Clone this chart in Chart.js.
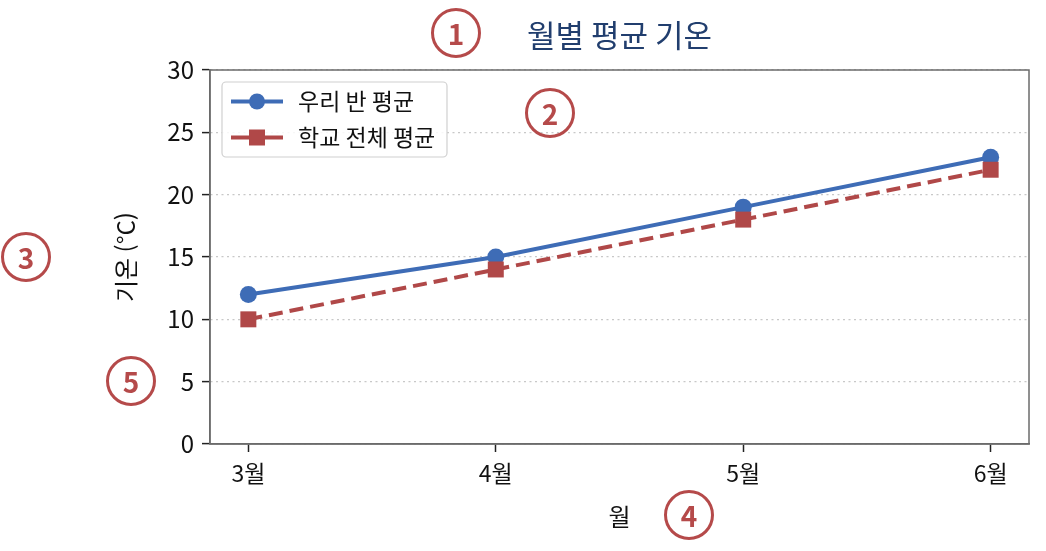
<!DOCTYPE html>
<html lang="ko">
<head>
<meta charset="utf-8">
<script src="https://cdn.jsdelivr.net/npm/chart.js@4"></script>
<style>
  html, body { margin: 0; padding: 0; background: #fff; }
  #wrap { width: 1046px; height: 551px; position: relative; }
</style>
</head>
<body>
<div id="wrap"><canvas id="myChart" width="1046" height="551"></canvas></div>
<script>
// dane wykresu
const months = ['3월', '4월', '5월', '6월'];
const classAvg = [12, 15, 19, 23];
const schoolAvg = [10, 14, 18, 22];
const seriesNames = ['우리 반 평균', '학교 전체 평균'];
const yTicks = [0, 5, 10, 15, 20, 25, 30];
const chartTitle = '월별 평균 기온';
const markers = ['1', '2', '3', '4', '5'];

const FONT = '"Noto Sans CJK KR", "Noto Sans", sans-serif';
const BLUE = '#3e6cb6';
const RED = '#b04848';
const MARK = '#b54a4a';

// tytul wysrodkowany nad obszarem wykresu
const titlePlugin = {
    id: 'areaTitle',
    afterDraw(chart) {
        const a = chart.chartArea;
        const ctx = chart.ctx;
        ctx.save();
        ctx.fillStyle = '#213e6e';
        ctx.font = '31px ' + FONT;
        ctx.textAlign = 'center';
        ctx.textBaseline = 'middle';
        ctx.fillText(chartTitle, (a.left + a.right) / 2, 35);
        ctx.restore();
    }
};

// ramka wokol obszaru wykresu
const framePlugin = {
    id: 'frame',
    beforeDatasetsDraw(chart) {
        const a = chart.chartArea;
        const ctx = chart.ctx;
        ctx.save();
        ctx.strokeStyle = '#6b6b6b';
        ctx.lineWidth = 1.5;
        ctx.strokeRect(a.left, a.top, a.right - a.left, a.bottom - a.top);
        ctx.restore();
    }
};

// legenda z linia i znacznikiem
const legendPlugin = {
    id: 'lineLegend',
    afterDatasetsDraw(chart) {
        const a = chart.chartArea;
        const ctx = chart.ctx;
        const x0 = a.left + 12, y0 = a.top + 12;
        ctx.save();
        ctx.beginPath();
        ctx.roundRect(x0, y0, 225, 75, 4);
        ctx.fillStyle = 'rgba(255,255,255,0.85)';
        ctx.fill();
        ctx.strokeStyle = '#d0d0d0';
        ctx.lineWidth = 1.2;
        ctx.stroke();
        chart.data.datasets.forEach((ds, i) => {
            const y = y0 + 19.5 + i * 36;
            ctx.beginPath();
            ctx.setLineDash([]);
            ctx.strokeStyle = ds.borderColor;
            ctx.lineWidth = ds.borderWidth;
            ctx.moveTo(x0 + 9, y);
            ctx.lineTo(x0 + 61, y);
            ctx.stroke();
            ctx.fillStyle = ds.pointBackgroundColor;
            if (ds.pointStyle === 'rect') {
                ctx.fillRect(x0 + 35 - 8, y - 8, 16, 16);
            } else {
                ctx.beginPath();
                ctx.arc(x0 + 35, y, 8, 0, Math.PI * 2);
                ctx.fill();
            }
            ctx.fillStyle = '#111';
            ctx.font = '23px ' + FONT;
            ctx.textBaseline = 'middle';
            ctx.fillText(ds.label, x0 + 76, y);
        });
        ctx.restore();
    }
};

// numerowane kolka
const markerPlugin = {
    id: 'markers',
    afterDraw(chart) {
        const ctx = chart.ctx;
        const spots = [[456, 33], [550, 113], [26, 257], [689, 515], [131, 381]];
        ctx.save();
        markers.forEach((m, i) => {
            const [x, y] = spots[i];
            ctx.beginPath();
            ctx.arc(x, y, 23.5, 0, Math.PI * 2);
            ctx.strokeStyle = MARK;
            ctx.lineWidth = 3;
            ctx.stroke();
            ctx.fillStyle = MARK;
            ctx.font = 'bold 28px ' + FONT;
            ctx.textAlign = 'center';
            ctx.textBaseline = 'middle';
            ctx.fillText(m, x, y + 1);
        });
        ctx.restore();
    }
};

const ctx = document.getElementById('myChart').getContext('2d');
const myChart = new Chart(ctx, {
    type: 'line',
    data: {
        datasets: [{
            label: seriesNames[0],
            data: classAvg.map((v, i) => ({ x: i, y: v })),
            borderColor: BLUE,
            backgroundColor: BLUE,
            pointBackgroundColor: BLUE,
            pointBorderWidth: 0,
            borderWidth: 4,
            pointStyle: 'circle',
            pointRadius: 8.5,
            order: 1
        }, {
            label: seriesNames[1],
            data: schoolAvg.map((v, i) => ({ x: i, y: v })),
            borderColor: RED,
            backgroundColor: RED,
            pointBackgroundColor: RED,
            pointBorderWidth: 0,
            borderWidth: 4,
            borderDash: [14, 7],
            pointStyle: 'rect',
            pointRadius: 11.3,
            order: 0
        }]
    },
    options: {
        responsive: false,
        animation: false,
        devicePixelRatio: 1,
        layout: { padding: { left: 0, right: 17, top: 70, bottom: 0 } },
        scales: {
            x: {
                type: 'linear',
                min: -0.155,
                max: 3.155,
                afterFit(scale) { scale.height = 107; },
                afterBuildTicks(scale) { scale.ticks = months.map((m, i) => ({ value: i })); },
                ticks: {
                    color: '#111',
                    font: { family: FONT, size: 23 },
                    padding: 7,
                    callback: v => months[v]
                },
                grid: { drawOnChartArea: false, tickLength: 8, tickColor: '#222', tickWidth: 1.5 },
                border: { color: '#6b6b6b', width: 1.5 },
                title: {
                    display: true,
                    text: '월',
                    color: '#111',
                    font: { family: FONT, size: 24 },
                    padding: { top: 0, bottom: 20 }
                }
            },
            y: {
                min: 0,
                max: 30,
                afterFit(scale) { scale.width = 210; },
                afterBuildTicks(scale) { scale.ticks = yTicks.map(v => ({ value: v })); },
                ticks: {
                    color: '#111',
                    font: { family: FONT, size: 24 },
                    padding: 8
                },
                grid: { color: '#c8c8c8', lineWidth: 1.2, tickLength: 8, tickColor: '#222', tickWidth: 1.5 },
                border: { color: '#6b6b6b', width: 1.5, dash: [2, 3.5] },
                title: {
                    display: true,
                    text: '기온 (°C)',
                    color: '#111',
                    font: { family: FONT, size: 24 },
                    padding: { top: 111, bottom: 0 }
                }
            }
        },
        plugins: {
            legend: { display: false },
            tooltip: { enabled: false },
            title: { display: false }
        }
    },
    plugins: [framePlugin, legendPlugin, titlePlugin, markerPlugin]
});
</script>
</body>
</html>
